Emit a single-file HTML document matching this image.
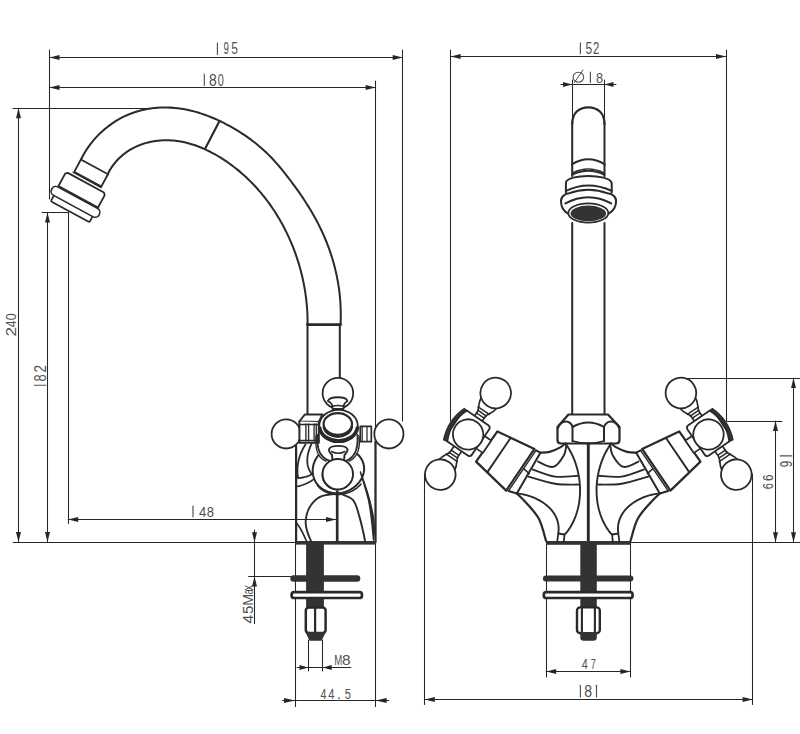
<!DOCTYPE html>
<html><head><meta charset="utf-8"><style>
html,body{margin:0;padding:0;background:#fff;width:800px;height:734px;overflow:hidden}
svg{display:block}
text{font-family:"Liberation Sans",sans-serif}
</style></head><body>
<svg width="800" height="734" viewBox="0 0 800 734" stroke-linecap="round" stroke-linejoin="round">
<rect width="800" height="734" fill="#fff"/>
<line x1="49.50" y1="50.00" x2="49.50" y2="199.00" stroke="#262626" stroke-width="1.05" />
<line x1="402.50" y1="50.00" x2="402.50" y2="421.00" stroke="#262626" stroke-width="1.05" />
<line x1="49.50" y1="57.50" x2="402.70" y2="57.50" stroke="#262626" stroke-width="1.05" />
<polygon points="49.50,57.50 59.50,60.00 59.50,55.00" fill="#262626"/>
<polygon points="402.70,57.50 392.70,55.00 392.70,60.00" fill="#262626"/>
<line x1="217.40" y1="43.00" x2="217.40" y2="54.40" stroke="#505050" stroke-width="1.15"/>
<text transform="translate(223.46,54.40) scale(0.594,1)" font-size="16.29" fill="#505050">9</text>
<text transform="translate(231.22,54.40) scale(0.737,1)" font-size="16.29" fill="#505050">5</text>
<line x1="375.50" y1="81.00" x2="375.50" y2="542.00" stroke="#262626" stroke-width="1.05" />
<line x1="49.50" y1="87.50" x2="375.60" y2="87.50" stroke="#262626" stroke-width="1.05" />
<polygon points="49.50,87.50 59.50,90.00 59.50,85.00" fill="#262626"/>
<polygon points="375.60,87.50 365.60,85.00 365.60,90.00" fill="#262626"/>
<line x1="204.30" y1="74.00" x2="204.30" y2="85.50" stroke="#505050" stroke-width="1.15"/>
<text transform="translate(209.04,85.50) scale(0.846,1)" font-size="16.43" fill="#505050">8</text>
<text transform="translate(217.82,85.50) scale(0.665,1)" font-size="16.43" fill="#505050">0</text>
<line x1="13.00" y1="108.50" x2="156.00" y2="108.50" stroke="#262626" stroke-width="1.05" />
<line x1="18.50" y1="108.30" x2="18.50" y2="542.00" stroke="#262626" stroke-width="1.05" />
<polygon points="18.50,108.30 16.00,118.30 21.00,118.30" fill="#262626"/>
<polygon points="18.50,542.00 21.00,532.00 16.00,532.00" fill="#262626"/>
<text transform="translate(15.90,336.46) rotate(-90) scale(1.156,1)" font-size="14.86" fill="#505050">2</text>
<text transform="translate(15.90,327.24) rotate(-90) scale(0.805,1)" font-size="14.86" fill="#505050">4</text>
<text transform="translate(15.90,320.14) rotate(-90) scale(0.847,1)" font-size="14.86" fill="#505050">0</text>
<line x1="42.00" y1="212.50" x2="68.00" y2="212.50" stroke="#262626" stroke-width="1.05" />
<line x1="47.50" y1="212.50" x2="47.50" y2="542.00" stroke="#262626" stroke-width="1.05" />
<polygon points="47.50,212.50 45.00,222.50 50.00,222.50" fill="#262626"/>
<polygon points="47.50,542.00 50.00,532.00 45.00,532.00" fill="#262626"/>
<line x1="34.30" y1="385.20" x2="45.90" y2="385.20" stroke="#505050" stroke-width="1.15"/>
<text transform="translate(45.90,381.41) rotate(-90) scale(0.775,1)" font-size="16.57" fill="#505050">8</text>
<text transform="translate(45.90,372.47) rotate(-90) scale(0.813,1)" font-size="16.57" fill="#505050">2</text>
<line x1="13.00" y1="542.50" x2="296.00" y2="542.50" stroke="#262626" stroke-width="1.05" />
<line x1="68.50" y1="212.50" x2="68.50" y2="523.50" stroke="#262626" stroke-width="1.05" />
<line x1="68.20" y1="519.50" x2="336.00" y2="519.50" stroke="#262626" stroke-width="1.05" />
<polygon points="68.20,519.50 78.20,522.00 78.20,517.00" fill="#262626"/>
<polygon points="336.00,519.50 326.00,517.00 326.00,522.00" fill="#262626"/>
<line x1="193.00" y1="506.20" x2="193.00" y2="516.80" stroke="#505050" stroke-width="1.15"/>
<text transform="translate(198.94,516.80) scale(0.868,1)" font-size="15.14" fill="#505050">4</text>
<text transform="translate(206.68,516.80) scale(0.862,1)" font-size="15.14" fill="#505050">8</text>
<line x1="254.50" y1="530.00" x2="254.50" y2="623.50" stroke="#262626" stroke-width="1.05" />
<polygon points="254.50,542.20 257.00,532.20 252.00,532.20" fill="#262626"/>
<line x1="248.60" y1="576.50" x2="292.00" y2="576.50" stroke="#262626" stroke-width="1.05" />
<polygon points="254.50,576.40 252.00,586.40 257.00,586.40" fill="#262626"/>
<text transform="translate(253.30,623.51) rotate(-90) scale(1.026,1)" font-size="15.29" fill="#505050">4</text>
<text transform="translate(253.30,614.10) rotate(-90) scale(0.978,1)" font-size="15.29" fill="#505050">5</text>
<text transform="translate(253.30,605.75) rotate(-90) scale(0.940,1)" font-size="15.29" fill="#505050">M</text>
<text transform="translate(253.30,594.35) rotate(-90) scale(0.566,1)" font-size="15.29" fill="#505050">a</text>
<text transform="translate(253.30,590.51) rotate(-90) scale(0.722,1)" font-size="15.29" fill="#505050">x</text>
<line x1="308.50" y1="640.00" x2="308.50" y2="671.00" stroke="#262626" stroke-width="1.05" />
<line x1="322.50" y1="640.00" x2="322.50" y2="671.00" stroke="#262626" stroke-width="1.05" />
<line x1="297.00" y1="667.50" x2="350.70" y2="667.50" stroke="#262626" stroke-width="1.05" />
<polygon points="308.50,667.50 299.50,665.00 299.50,670.00" fill="#262626"/>
<polygon points="322.70,667.50 331.70,670.00 331.70,665.00" fill="#262626"/>
<text transform="translate(334.23,665.00) scale(0.636,1)" font-size="15.14" fill="#505050">M</text>
<text transform="translate(342.09,665.00) scale(1.015,1)" font-size="15.14" fill="#505050">8</text>
<line x1="295.50" y1="542.00" x2="295.50" y2="706.50" stroke="#262626" stroke-width="1.05" />
<line x1="375.50" y1="542.00" x2="375.50" y2="706.50" stroke="#262626" stroke-width="1.05" />
<line x1="282.60" y1="700.50" x2="388.80" y2="700.50" stroke="#262626" stroke-width="1.05" />
<polygon points="295.00,700.50 284.00,698.00 284.00,703.00" fill="#262626"/>
<polygon points="375.60,700.50 386.60,703.00 386.60,698.00" fill="#262626"/>
<text transform="translate(320.39,699.00) scale(0.693,1)" font-size="15.29" fill="#505050">4</text>
<text transform="translate(328.18,699.00) scale(0.731,1)" font-size="15.29" fill="#505050">4</text>
<rect x="338.20" y="697.50" width="1.60" height="1.5" fill="#505050"/>
<text transform="translate(344.65,699.00) scale(0.730,1)" font-size="15.29" fill="#505050">5</text>
<line x1="450.50" y1="50.00" x2="450.50" y2="421.00" stroke="#262626" stroke-width="1.05" />
<line x1="726.50" y1="50.00" x2="726.50" y2="421.00" stroke="#262626" stroke-width="1.05" />
<line x1="450.60" y1="56.50" x2="726.00" y2="56.50" stroke="#262626" stroke-width="1.05" />
<polygon points="450.60,56.50 460.60,59.00 460.60,54.00" fill="#262626"/>
<polygon points="726.00,56.50 716.00,54.00 716.00,59.00" fill="#262626"/>
<line x1="580.40" y1="42.80" x2="580.40" y2="53.70" stroke="#505050" stroke-width="1.15"/>
<text transform="translate(585.52,53.70) scale(0.771,1)" font-size="15.57" fill="#505050">5</text>
<text transform="translate(592.93,53.70) scale(0.726,1)" font-size="15.57" fill="#505050">2</text>
<line x1="572.50" y1="80.00" x2="572.50" y2="123.00" stroke="#262626" stroke-width="1.05" />
<line x1="604.50" y1="80.00" x2="604.50" y2="123.00" stroke="#262626" stroke-width="1.05" />
<line x1="561.00" y1="84.50" x2="616.00" y2="84.50" stroke="#262626" stroke-width="1.05" />
<polygon points="572.00,84.50 563.00,82.00 563.00,87.00" fill="#262626"/>
<polygon points="604.50,84.50 613.50,87.00 613.50,82.00" fill="#262626"/>
<line x1="590.40" y1="72.10" x2="590.40" y2="82.60" stroke="#505050" stroke-width="1.15"/>
<text transform="translate(596.09,82.60) scale(0.856,1)" font-size="15.00" fill="#505050">8</text>
<ellipse cx="578.4" cy="77.2" rx="5.3" ry="5" fill="none" stroke="#505050" stroke-width="1.1"/>
<line x1="574.70" y1="82.20" x2="583.00" y2="69.90" stroke="#505050" stroke-width="1.0" />
<line x1="682.00" y1="378.50" x2="800.00" y2="378.50" stroke="#262626" stroke-width="1.05" />
<line x1="793.50" y1="378.00" x2="793.50" y2="542.00" stroke="#262626" stroke-width="1.05" />
<polygon points="793.50,378.00 791.00,388.00 796.00,388.00" fill="#262626"/>
<polygon points="793.50,542.20 796.00,532.20 791.00,532.20" fill="#262626"/>
<text transform="translate(791.80,467.32) rotate(-90) scale(0.701,1)" font-size="16.57" fill="#505050">9</text>
<line x1="780.20" y1="455.90" x2="791.80" y2="455.90" stroke="#505050" stroke-width="1.15"/>
<line x1="727.00" y1="421.50" x2="782.00" y2="421.50" stroke="#262626" stroke-width="1.05" />
<line x1="775.50" y1="421.00" x2="775.50" y2="542.00" stroke="#262626" stroke-width="1.05" />
<polygon points="775.50,421.00 773.00,431.00 778.00,431.00" fill="#262626"/>
<polygon points="775.50,542.20 778.00,532.20 773.00,532.20" fill="#262626"/>
<text transform="translate(773.00,489.15) rotate(-90) scale(0.711,1)" font-size="15.43" fill="#505050">6</text>
<text transform="translate(773.00,480.98) rotate(-90) scale(0.753,1)" font-size="15.43" fill="#505050">6</text>
<line x1="630.00" y1="542.50" x2="800.00" y2="542.50" stroke="#262626" stroke-width="1.05" />
<line x1="546.50" y1="542.00" x2="546.50" y2="677.00" stroke="#262626" stroke-width="1.05" />
<line x1="630.50" y1="542.00" x2="630.50" y2="677.00" stroke="#262626" stroke-width="1.05" />
<line x1="546.20" y1="671.50" x2="630.40" y2="671.50" stroke="#262626" stroke-width="1.05" />
<polygon points="546.20,671.50 556.20,674.00 556.20,669.00" fill="#262626"/>
<polygon points="630.40,671.50 620.40,669.00 620.40,674.00" fill="#262626"/>
<text transform="translate(581.68,668.70) scale(0.732,1)" font-size="15.00" fill="#505050">4</text>
<text transform="translate(590.74,668.70) scale(0.609,1)" font-size="15.00" fill="#505050">7</text>
<line x1="424.50" y1="474.00" x2="424.50" y2="704.50" stroke="#262626" stroke-width="1.05" />
<line x1="752.50" y1="474.00" x2="752.50" y2="704.50" stroke="#262626" stroke-width="1.05" />
<line x1="424.80" y1="699.50" x2="752.60" y2="699.50" stroke="#262626" stroke-width="1.05" />
<polygon points="424.80,699.50 434.80,702.00 434.80,697.00" fill="#262626"/>
<polygon points="752.60,699.50 742.60,697.00 742.60,702.00" fill="#262626"/>
<line x1="580.40" y1="685.20" x2="580.40" y2="696.90" stroke="#505050" stroke-width="1.15"/>
<text transform="translate(584.34,696.90) scale(0.844,1)" font-size="16.71" fill="#505050">8</text>
<line x1="596.50" y1="685.20" x2="596.50" y2="696.90" stroke="#505050" stroke-width="1.15"/>
<path d="M81.00,159.50 L82.55,156.45 L84.22,153.43 L86.00,150.48 L87.91,147.60 L89.92,144.79 L92.04,142.06 L94.26,139.40 L96.58,136.83 L99.00,134.34 L101.50,131.94 L104.09,129.64 L106.77,127.43 L109.52,125.33 L112.34,123.32 L115.24,121.43 L118.20,119.64 L121.23,117.97 L124.31,116.42 L127.45,114.99 L130.64,113.69 L133.87,112.51 L137.14,111.46 L140.45,110.53 L143.80,109.73 L147.17,109.05 L150.56,108.49 L153.97,108.05 L157.39,107.74 L160.82,107.54 L164.26,107.45 L167.69,107.49 L171.12,107.63 L174.53,107.89 L177.94,108.26 L181.33,108.73 L184.72,109.31 L188.08,109.98 L191.43,110.75 L194.76,111.62 L198.08,112.57 L201.37,113.60 L204.64,114.72 L207.89,115.92 L211.12,117.19 L214.32,118.53 L217.49,119.94 L220.64,121.42 L223.75,122.96 L226.84,124.56 L229.89,126.21 L232.91,127.91 L235.89,129.67 L238.84,131.47 L241.75,133.31 L244.62,135.21 L247.45,137.15 L250.24,139.14 L252.98,141.19 L255.68,143.29 L258.33,145.44 L260.92,147.65 L263.47,149.92 L265.97,152.24 L268.41,154.63 L270.81,157.06 L273.16,159.54 L275.46,162.07 L277.73,164.65 L279.96,167.26 L282.16,169.90 L284.32,172.58 L286.46,175.28 L288.57,178.01 L290.66,180.76 L292.73,183.53 L294.78,186.31 L296.80,189.12 L298.79,191.94 L300.76,194.78 L302.70,197.65 L304.60,200.53 L306.47,203.44 L308.31,206.36 L310.11,209.31 L311.87,212.28 L313.59,215.26 L315.27,218.28 L316.90,221.31 L318.49,224.37 L320.03,227.45 L321.52,230.55 L322.96,233.68 L324.35,236.83 L325.69,240.00 L326.97,243.19 L328.20,246.41 L329.38,249.64 L330.50,252.89 L331.57,256.16 L332.58,259.45 L333.53,262.76 L334.43,266.08 L335.28,269.41 L336.06,272.76 L336.79,276.12 L337.45,279.50 L338.06,282.88 L338.61,286.28 L339.10,289.69 L339.53,293.10 L339.89,296.53 L340.19,299.96 L340.44,303.40 L340.61,306.84 L340.73,310.29 L340.78,313.75 L340.76,317.20 L340.68,320.66 L340.60,324.10" stroke="#2a2a2a" stroke-width="2.0160000000000005" fill="none" />
<path d="M107.90,174.30 L108.82,171.91 L110.30,169.36 L111.88,166.92 L113.55,164.59 L115.31,162.38 L117.16,160.28 L119.10,158.29 L121.11,156.40 L123.20,154.63 L125.35,152.96 L127.58,151.40 L129.86,149.95 L132.20,148.60 L134.60,147.35 L137.04,146.21 L139.53,145.17 L142.06,144.23 L144.63,143.39 L147.23,142.65 L149.85,142.02 L152.50,141.48 L155.17,141.03 L157.85,140.69 L160.55,140.44 L163.25,140.29 L165.95,140.23 L168.65,140.26 L171.34,140.39 L174.03,140.60 L176.71,140.91 L179.37,141.30 L182.03,141.78 L184.67,142.33 L187.29,142.97 L189.91,143.68 L192.51,144.46 L195.09,145.31 L197.65,146.23 L200.20,147.22 L202.72,148.27 L205.23,149.38 L207.72,150.55 L210.18,151.77 L212.62,153.05 L215.04,154.37 L217.43,155.75 L219.79,157.16 L222.13,158.62 L224.44,160.13 L226.72,161.66 L228.98,163.24 L231.20,164.85 L233.39,166.50 L235.56,168.18 L237.69,169.89 L239.80,171.64 L241.88,173.43 L243.92,175.24 L245.94,177.09 L247.92,178.97 L249.88,180.87 L251.81,182.81 L253.70,184.78 L255.57,186.78 L257.40,188.80 L259.20,190.86 L260.98,192.94 L262.72,195.04 L264.43,197.17 L266.11,199.33 L267.75,201.52 L269.37,203.72 L270.95,205.95 L272.51,208.21 L274.03,210.48 L275.51,212.78 L276.97,215.10 L278.40,217.44 L279.79,219.80 L281.15,222.18 L282.47,224.58 L283.77,226.99 L285.03,229.43 L286.26,231.88 L287.45,234.35 L288.62,236.83 L289.74,239.33 L290.84,241.85 L291.90,244.37 L292.93,246.92 L293.92,249.47 L294.89,252.04 L295.81,254.62 L296.70,257.21 L297.56,259.81 L298.39,262.42 L299.18,265.04 L299.93,267.67 L300.65,270.31 L301.34,272.96 L301.99,275.61 L302.60,278.27 L303.18,280.93 L303.73,283.61 L304.24,286.28 L304.71,288.96 L305.15,291.65 L305.55,294.33 L305.92,297.02 L306.25,299.71 L306.54,302.40 L306.80,305.10 L307.02,307.79 L307.21,310.48 L307.36,313.17 L307.47,315.86 L307.54,318.55 L307.58,321.24 L307.50,324.10" stroke="#2a2a2a" stroke-width="2.0160000000000005" fill="none" />
<line x1="205.25" y1="148.60" x2="219.50" y2="121.00" stroke="#2a2a2a" stroke-width="2.128" />
<line x1="307.50" y1="324.60" x2="340.60" y2="324.60" stroke="#2a2a2a" stroke-width="2.688" />
<g transform="translate(94.45,166.9) rotate(28.5)" stroke="#2a2a2a" fill="#fff" stroke-width="1.6">
<path d="M-15.4,0 L15.4,0 L15.4,14 L-15.4,14 Z" stroke="#2a2a2a" stroke-width="1.7920000000000003" fill="#fff" />
<path d="M-20.5,17.9 L20.5,17.9 L22.5,19.9 L22.5,34 L-22.5,34 L-22.5,19.9 Z" stroke="#2a2a2a" stroke-width="1.7920000000000003" fill="#fff" />
<line x1="-16.30" y1="15.00" x2="15.80" y2="15.00" stroke="#2a2a2a" stroke-width="1.2320000000000002" />
<path d="M-22,44 L22,44 L22,50 Q22,51 20,51 L-20,51 Q-22,51 -22,50 Z" stroke="#2a2a2a" stroke-width="1.7920000000000003" fill="#fff" />
<rect x="-27" y="35" width="54" height="9.5" rx="4.7" fill="#fff"/>
</g>
<line x1="307.50" y1="324.60" x2="307.50" y2="414.50" stroke="#2a2a2a" stroke-width="2.0160000000000005" />
<line x1="339.80" y1="324.60" x2="339.80" y2="378.50" stroke="#2a2a2a" stroke-width="2.0160000000000005" />
<line x1="296.10" y1="446.00" x2="296.10" y2="542.00" stroke="#2a2a2a" stroke-width="2.24" />
<line x1="375.50" y1="441.50" x2="375.50" y2="542.00" stroke="#2a2a2a" stroke-width="2.24" />
<rect x="295.5" y="541" width="80.6" height="3.6" fill="#333"/>
<rect x="306.1" y="544" width="17.8" height="64" fill="#333"/>
<rect x="290.3" y="575.2" width="70" height="6.6" rx="3.2" fill="#333"/>
<rect x="291.6" y="592.2" width="70.4" height="5.8" rx="2.6" fill="#fff" stroke="#2a2a2a" stroke-width="2.7"/>
<rect x="305.8" y="607.4" width="19.8" height="25.6" rx="3" fill="#fff" stroke="#2a2a2a" stroke-width="2.5"/>
<line x1="315.10" y1="607.50" x2="315.10" y2="633.00" stroke="#2a2a2a" stroke-width="2.24" />
<path d="M305.4,632 L326,632 L321.5,640.7 L309.5,640.7 Z" fill="#333"/>
<circle cx="337.9" cy="393.2" r="15.3" fill="#fff" stroke="#2a2a2a" stroke-width="1.8"/>
<circle cx="286.2" cy="433.9" r="14.6" fill="#fff" stroke="#2a2a2a" stroke-width="1.8"/>
<circle cx="388.9" cy="433.9" r="14.6" fill="#fff" stroke="#2a2a2a" stroke-width="1.8"/>
<circle cx="337.5" cy="474.5" r="15.1" fill="#fff" stroke="#2a2a2a" stroke-width="1.8"/>
<path d="M327.8,401 C330,396 346,396 347.5,401 C344,403 343,405 343.5,409 L332.5,409 C333,405 332,403 327.8,401 Z" stroke="#2a2a2a" stroke-width="1.7920000000000003" fill="#fff" />
<path d="M331.5,406.5 Q338,404.5 344,406.5" stroke="#2a2a2a" stroke-width="1.4560000000000002" fill="none" />
<ellipse cx="338.5" cy="426" rx="19.3" ry="16.2" fill="#fff" stroke="#2a2a2a" stroke-width="1.8"/>
<path d="M319.6,428 C321,436 329,440.5 338.5,441.2 C348,440.5 356,436 357.4,428" stroke="#2a2a2a" stroke-width="3.8080000000000003" fill="none" />
<ellipse cx="337.8" cy="424" rx="14.2" ry="10.8" fill="none" stroke="#2a2a2a" stroke-width="2.2"/>
<path d="M323.8,427 C325,433 331,436.5 337.8,436.8 C344.6,436.5 350.6,433 351.8,427" stroke="#2a2a2a" stroke-width="2.4640000000000004" fill="none" />
<path d="M299.4,421.5 L304.8,414.5 L322.5,414.5 L318.8,422 Z" stroke="#2a2a2a" stroke-width="2.0160000000000005" fill="#fff" />
<path d="M299.4,421.5 L299.4,442.8 L318.8,442.8 L318.8,422" stroke="#2a2a2a" stroke-width="2.0160000000000005" fill="#fff" />
<line x1="305.90" y1="424.00" x2="305.90" y2="441.00" stroke="#2a2a2a" stroke-width="1.344" />
<line x1="308.60" y1="424.00" x2="308.60" y2="441.00" stroke="#2a2a2a" stroke-width="1.344" />
<line x1="314.10" y1="424.00" x2="314.10" y2="441.00" stroke="#2a2a2a" stroke-width="1.344" />
<line x1="316.30" y1="424.00" x2="316.30" y2="441.00" stroke="#2a2a2a" stroke-width="1.344" />
<line x1="299.40" y1="424.50" x2="318.80" y2="424.50" stroke="#2a2a2a" stroke-width="1.344" />
<line x1="299.40" y1="440.50" x2="318.80" y2="440.50" stroke="#2a2a2a" stroke-width="1.344" />
<rect x="360.3" y="426.4" width="11" height="15.3" fill="#fff" stroke="#2a2a2a" stroke-width="1.7"/>
<line x1="362.20" y1="427.00" x2="362.20" y2="441.00" stroke="#2a2a2a" stroke-width="1.2320000000000002" />
<line x1="367.00" y1="427.00" x2="367.00" y2="441.00" stroke="#2a2a2a" stroke-width="1.2320000000000002" />
<path d="M317.50,435.00 L317.49,436.01 L317.44,437.03 L317.41,438.07 L317.39,439.11 L317.40,440.16 L317.43,441.22 L317.48,442.28 L317.56,443.33 L317.67,444.38 L317.81,445.43 L317.99,446.46 L318.19,447.49 L318.44,448.50 L318.72,449.49 L319.05,450.46 L319.42,451.41 L319.83,452.33 L320.29,453.23 L320.80,454.10 L321.36,454.93 L321.97,455.73 L322.64,456.48 L323.37,457.20 L324.15,457.88 L325.00,458.50 L325.91,459.08 L326.89,459.61 L327.93,460.08 L329.00,460.50" stroke="#2a2a2a" stroke-width="1.9040000000000001" fill="none" />
<path d="M357.50,435.00 L357.51,436.00 L357.56,437.01 L357.59,438.04 L357.61,439.07 L357.60,440.10 L357.58,441.15 L357.52,442.19 L357.45,443.23 L357.34,444.26 L357.21,445.29 L357.04,446.31 L356.84,447.32 L356.60,448.31 L356.33,449.29 L356.02,450.26 L355.66,451.20 L355.27,452.12 L354.83,453.01 L354.34,453.87 L353.80,454.71 L353.21,455.51 L352.57,456.28 L351.88,457.01 L351.12,457.71 L350.31,458.36 L349.44,458.96 L348.51,459.52 L347.52,460.04 L346.50,460.50" stroke="#2a2a2a" stroke-width="1.9040000000000001" fill="none" />
<path d="M316.00,436.00 L315.97,436.96 L315.92,437.95 L315.88,438.94 L315.86,439.95 L315.85,440.96 L315.86,441.98 L315.89,443.00 L315.94,444.02 L316.02,445.04 L316.12,446.06 L316.25,447.06 L316.41,448.06 L316.61,449.05 L316.84,450.02 L317.11,450.97 L317.42,451.91 L317.77,452.82 L318.16,453.71 L318.60,454.57 L319.09,455.40 L319.63,456.21 L320.23,456.97 L320.88,457.70 L321.59,458.40 L322.36,459.05 L323.19,459.65 L324.08,460.21 L325.04,460.72 L326.00,461.20" stroke="#2a2a2a" stroke-width="1.344" fill="none" />
<path d="M359.00,436.00 L359.11,436.97 L359.22,437.96 L359.30,438.96 L359.36,439.96 L359.39,440.98 L359.40,442.00 L359.38,443.02 L359.33,444.04 L359.25,445.06 L359.13,446.07 L358.99,447.08 L358.80,448.07 L358.58,449.06 L358.32,450.02 L358.03,450.98 L357.69,451.91 L357.31,452.82 L356.88,453.70 L356.42,454.56 L355.90,455.40 L355.34,456.20 L354.72,456.96 L354.06,457.69 L353.35,458.38 L352.58,459.04 L351.76,459.64 L350.88,460.21 L349.94,460.72 L349.00,461.20" stroke="#2a2a2a" stroke-width="1.344" fill="none" />
<path d="M318.50,455.00 L317.44,456.52 L316.30,458.20 L315.33,459.94 L314.51,461.72 L313.85,463.55 L313.34,465.39 L312.98,467.26 L312.78,469.13 L312.72,470.99 L312.81,472.84 L313.05,474.67 L313.43,476.46 L313.95,478.20 L314.62,479.89 L315.42,481.51 L316.37,483.06 L317.45,484.51 L318.67,485.88 L320.01,487.14 L321.46,488.29 L323.02,489.34 L324.66,490.27 L326.38,491.08 L328.16,491.77 L329.99,492.34 L331.87,492.77 L333.77,493.08 L335.69,493.24 L337.61,493.26 L339.52,493.14 L341.42,492.88 L343.30,492.48 L345.14,491.95 L346.94,491.30 L348.70,490.53 L350.40,489.64 L352.04,488.66 L353.61,487.57 L355.09,486.40 L356.50,485.13 L357.81,483.79 L359.02,482.37 L360.12,480.89 L361.10,479.34 L361.96,477.74 L362.68,476.08 L363.27,474.39 L363.71,472.66 L363.99,470.89 L364.11,469.10 L364.06,467.30 L363.83,465.48 L363.42,463.67 L362.83,461.88 L362.04,460.12 L361.05,458.40 L359.86,456.73 L358.47,455.14 L357.00,454.00" stroke="#2a2a2a" stroke-width="2.0160000000000005" fill="none" />
<path d="M317.50,485.50 L318.35,486.50 L319.25,487.43 L320.19,488.31 L321.17,489.12 L322.19,489.88 L323.23,490.57 L324.31,491.21 L325.41,491.78 L326.54,492.31 L327.70,492.77 L328.87,493.18 L330.07,493.53 L331.28,493.82 L332.50,494.06 L333.74,494.25 L334.99,494.38 L336.24,494.46 L337.50,494.49 L338.76,494.46 L340.02,494.39 L341.28,494.26 L342.54,494.09 L343.79,493.86 L345.03,493.59 L346.26,493.26 L347.47,492.89 L348.67,492.48 L349.85,492.01 L351.01,491.50 L352.15,490.95 L353.26,490.34 L354.35,489.70 L355.41,489.01 L356.43,488.28 L357.42,487.51 L358.37,486.69 L359.29,485.83 L360.16,484.94 L361.00,484.00" stroke="#2a2a2a" stroke-width="1.568" fill="none" />
<path d="M329,450 C329,444.5 347.5,444.5 347.5,450 C347.5,453 345,454 344.5,455 L344,461 L332.5,461 L332,455 C331.5,454 329,453 329,450 Z" stroke="#2a2a2a" stroke-width="1.9040000000000001" fill="#fff" />
<path d="M331.5,451.5 Q338.2,455 345,451.5" stroke="#2a2a2a" stroke-width="1.4560000000000002" fill="none" />
<circle cx="337.8" cy="474.2" r="15.2" fill="#fff" stroke="#2a2a2a" stroke-width="1.9"/>
<path d="M305.50,444.50 L304.85,445.52 L304.22,446.55 L303.62,447.59 L303.04,448.66 L302.48,449.73 L301.96,450.83 L301.46,451.93 L300.98,453.05 L300.53,454.17 L300.12,455.31 L299.72,456.46 L299.36,457.62 L299.03,458.78 L298.73,459.96 L298.46,461.14 L298.22,462.33 L298.01,463.52 L297.84,464.72 L297.69,465.92 L297.59,467.12 L297.51,468.33 L297.47,469.54 L297.46,470.75 L297.49,471.96 L297.56,473.17 L297.66,474.38 L297.81,475.59 L297.98,476.80 L298.20,478.00" stroke="#2a2a2a" stroke-width="1.7920000000000003" fill="none" />
<path d="M298.20,478.00 L298.97,477.96 L299.74,477.91 L300.50,477.83 L301.25,477.74 L302.00,477.63 L302.75,477.50 L303.49,477.36 L304.22,477.19 L304.96,477.01 L305.68,476.81 L306.40,476.59 L307.12,476.36 L307.83,476.10 L308.54,475.83 L309.24,475.54 L309.94,475.23 L310.63,474.91 L311.32,474.56 L312.00,474.20" stroke="#2a2a2a" stroke-width="1.7920000000000003" fill="none" />
<path d="M311.50,444.00 L311.05,444.96 L310.61,445.95 L310.19,446.95 L309.79,447.97 L309.41,449.00 L309.06,450.05 L308.73,451.11 L308.43,452.19 L308.16,453.27 L307.93,454.35 L307.72,455.45 L307.55,456.54 L307.42,457.64 L307.33,458.74 L307.28,459.84 L307.27,460.94 L307.31,462.03 L307.39,463.12 L307.53,464.19 L307.71,465.26 L307.95,466.32 L308.24,467.37 L308.60,468.40 L309.00,469.42 L309.47,470.41 L310.01,471.39 L310.60,472.35 L311.27,473.29 L312.00,474.20" stroke="#2a2a2a" stroke-width="1.7920000000000003" fill="none" />
<path d="M297.00,486.50 L297.97,486.30 L298.94,486.08 L299.90,485.83 L300.84,485.56 L301.78,485.28 L302.71,484.97 L303.63,484.64 L304.55,484.29 L305.45,483.91 L306.34,483.52 L307.23,483.10 L308.11,482.66 L308.98,482.21 L309.84,481.72 L310.69,481.22 L311.53,480.70 L312.36,480.15 L313.18,479.59 L314.00,479.00" stroke="#2a2a2a" stroke-width="1.6800000000000002" fill="none" />
<path d="M296.50,523.00 L297.18,523.86 L297.83,524.73 L298.46,525.62 L299.06,526.52 L299.65,527.43 L300.21,528.36 L300.76,529.29 L301.30,530.24 L301.82,531.19 L302.32,532.16 L302.81,533.13 L303.30,534.10 L303.77,535.08 L304.24,536.07 L304.70,537.05 L305.15,538.04 L305.60,539.03 L306.05,540.01 L306.50,541.00" stroke="#2a2a2a" stroke-width="1.6800000000000002" fill="none" />
<path d="M360.4,472 C365,484 371,500 373.8,520 C374.8,530 374,536 373.5,540 C372.5,530 371.5,515 368.5,500 C366,490 363,481 360.4,472 Z" fill="#333" stroke="#2a2a2a" stroke-width="1.4"/>
<line x1="337.20" y1="491.50" x2="337.20" y2="541.50" stroke="#2a2a2a" stroke-width="2.688" />
<path d="M334.90,493.90 C332.42,494.40 324.23,494.65 320.00,496.90 C315.77,499.15 311.88,503.40 309.50,507.40 C307.12,511.40 306.08,516.92 305.70,520.90 C305.32,524.88 306.32,527.95 307.20,531.30 C308.08,534.65 310.37,539.38 311.00,541.00" stroke="#2a2a2a" stroke-width="1.9040000000000001" fill="none" />
<path d="M339.40,493.20 C341.65,494.32 349.65,496.28 352.90,499.90 C356.15,503.52 357.15,509.42 358.90,514.90 C360.65,520.38 362.40,528.53 363.40,532.80 C364.40,537.07 364.65,539.22 364.90,540.50" stroke="#2a2a2a" stroke-width="1.9040000000000001" fill="none" />
<line x1="572.20" y1="123.00" x2="572.20" y2="165.00" stroke="#2a2a2a" stroke-width="2.0160000000000005" />
<line x1="604.50" y1="123.00" x2="604.50" y2="165.00" stroke="#2a2a2a" stroke-width="2.0160000000000005" />
<path d="M572.2,124 C572.2,113 579,107.3 588.3,107.3 C597.6,107.3 604.5,113 604.5,124" stroke="#2a2a2a" stroke-width="2.24" fill="none" />
<line x1="572.20" y1="165.00" x2="572.20" y2="176.00" stroke="#2a2a2a" stroke-width="2.0160000000000005" />
<line x1="604.50" y1="165.00" x2="604.50" y2="176.00" stroke="#2a2a2a" stroke-width="2.0160000000000005" />
<path d="M572.2,164.2 Q588.3,154.5 604.5,164.2" stroke="#2a2a2a" stroke-width="2.0160000000000005" fill="none" />
<path d="M572.4,174.5 Q588.3,166.8 604.1,174.5" stroke="#2a2a2a" stroke-width="2.0160000000000005" fill="none" />
<path d="M573,172.6 Q588.3,165.2 603.5,172.6" stroke="#2a2a2a" stroke-width="1.2320000000000002" fill="none" />
<path d="M565.9,192.5 L565.9,183 C566,178 578,176 588.3,176 C598.6,176 610.6,178 611.7,183 L611.7,192.5" stroke="#2a2a2a" stroke-width="2.0160000000000005" fill="#fff" />
<path d="M565.9,190.9 Q588.3,180 611.7,190.9" stroke="#2a2a2a" stroke-width="2.0160000000000005" fill="none" />
<path d="M561,201 C561,196 566,193.6 568,193.6 Q588.3,186 608.6,193.6 C611,193.6 616.1,196 616.1,201 C616.1,207 613,211 609,213.5 L567.6,213.5 C563.6,211 561,207 561,201 Z" stroke="#2a2a2a" stroke-width="2.0160000000000005" fill="#fff" />
<path d="M565.4,203.4 Q588.3,191 611.2,203.4" stroke="#2a2a2a" stroke-width="2.0160000000000005" fill="none" />
<ellipse cx="588.3" cy="213" rx="20" ry="9.6" fill="#fff" stroke="#2a2a2a" stroke-width="1.8"/>
<ellipse cx="588.3" cy="213.4" rx="17.8" ry="7.8" fill="#333"/>
<line x1="572.20" y1="223.00" x2="572.20" y2="414.00" stroke="#2a2a2a" stroke-width="2.0160000000000005" />
<line x1="604.50" y1="223.00" x2="604.50" y2="414.00" stroke="#2a2a2a" stroke-width="2.0160000000000005" />
<path d="M568.5,414.5 L608,414.5 L619.5,427 L619.5,440 Q619.5,443.5 616,443.5 L561,443.5 Q557.5,443.5 557.5,440 L557.5,427 Z" stroke="#2a2a2a" stroke-width="2.24" fill="#fff" />
<path d="M558,428 C559,423 564,421.5 566,421.5 C569,421.5 572,424 572.5,427 L572.5,441" stroke="#2a2a2a" stroke-width="2.0160000000000005" fill="none" />
<path d="M619,428 C618,423 613,421.5 611,421.5 C608,421.5 605,424 604,427 L604,441" stroke="#2a2a2a" stroke-width="2.0160000000000005" fill="none" />
<path d="M572.5,427 Q588.3,418 604,427" stroke="#2a2a2a" stroke-width="2.0160000000000005" fill="none" />
<path d="M572.5,441 Q588.3,446 604,441" stroke="#2a2a2a" stroke-width="1.7920000000000003" fill="none" />
<line x1="588.30" y1="443.50" x2="588.30" y2="542.00" stroke="#2a2a2a" stroke-width="2.9120000000000004" />
<rect x="546" y="541" width="84.6" height="3.8" fill="#333"/>
<rect x="580.3" y="544" width="16.5" height="64" fill="#333"/>
<rect x="542.9" y="575.6" width="90.5" height="6" rx="3" fill="#333"/>
<rect x="543.8" y="592.2" width="88.8" height="5.8" rx="2.6" fill="#fff" stroke="#2a2a2a" stroke-width="2.7"/>
<rect x="577" y="607.4" width="22.8" height="25.8" rx="3.2" fill="#fff" stroke="#2a2a2a" stroke-width="2.4"/>
<line x1="581.90" y1="608.00" x2="581.90" y2="632.50" stroke="#2a2a2a" stroke-width="2.128" />
<line x1="594.90" y1="608.00" x2="594.90" y2="632.50" stroke="#2a2a2a" stroke-width="2.128" />
<path d="M580.3,632 L596.8,632 L596.8,637.5 Q596.8,640.8 593.5,640.8 L583.6,640.8 Q580.3,640.8 580.3,637.5 Z" fill="#333"/>
<path d="M516.90,493.50 C518.52,495.12 522.92,498.93 526.60,503.20 C530.28,507.47 535.75,512.80 539.00,519.10 C542.25,525.40 544.92,537.35 546.10,541.00" stroke="#2a2a2a" stroke-width="2.24" fill="none" />
<path d="M539.90,452.70 C541.52,452.57 546.20,452.78 549.60,451.90 C553.00,451.02 557.63,448.83 560.30,447.40 C562.97,445.97 564.72,443.98 565.60,443.30" stroke="#2a2a2a" stroke-width="2.128" fill="none" />
<path d="M538.10,461.60 C540.62,462.48 548.92,467.93 553.20,466.90 C557.48,465.87 561.58,459.23 563.80,455.40 C566.02,451.57 566.05,445.82 566.50,443.90" stroke="#2a2a2a" stroke-width="1.9040000000000001" fill="none" />
<path d="M532.80,469.60 C536.50,470.77 547.47,475.57 555.00,476.60 C562.53,477.63 574.17,475.93 578.00,475.80" stroke="#2a2a2a" stroke-width="1.9040000000000001" fill="none" />
<path d="M528.40,476.60 C532.83,477.78 546.65,482.37 555.00,483.70 C563.35,485.03 574.58,484.45 578.50,484.60" stroke="#2a2a2a" stroke-width="1.9040000000000001" fill="none" />
<path d="M516.90,493.50 L518.45,493.66 L520.04,493.85 L521.63,494.10 L523.23,494.40 L524.84,494.74 L526.45,495.14 L528.06,495.59 L529.66,496.09 L531.25,496.64 L532.83,497.24 L534.40,497.88 L535.94,498.57 L537.47,499.32 L538.97,500.10 L540.44,500.94 L541.88,501.82 L543.28,502.74 L544.64,503.71 L545.96,504.72 L547.24,505.78 L548.46,506.88 L549.64,508.03 L550.75,509.22 L551.81,510.44 L552.80,511.72 L553.73,513.03 L554.59,514.38 L555.38,515.77 L556.09,517.20 L556.72,518.67 L557.26,520.18 L557.72,521.73 L558.09,523.32 L558.37,524.94 L558.55,526.60 L558.63,528.29 L558.61,530.03 L558.48,531.79 L558.30,533.50" stroke="#2a2a2a" stroke-width="1.9040000000000001" fill="none" />
<path d="M565.60,443.90 L566.87,445.50 L567.92,447.12 L568.92,448.78 L569.89,450.47 L570.82,452.18 L571.70,453.93 L572.54,455.71 L573.34,457.51 L574.10,459.34 L574.81,461.20 L575.48,463.07 L576.11,464.97 L576.69,466.88 L577.22,468.81 L577.71,470.76 L578.16,472.72 L578.56,474.69 L578.91,476.67 L579.22,478.67 L579.48,480.67 L579.69,482.67 L579.85,484.68 L579.97,486.69 L580.04,488.71 L580.05,490.72 L580.02,492.73 L579.94,494.74 L579.81,496.74 L579.63,498.73 L579.39,500.72 L579.11,502.69 L578.77,504.66 L578.39,506.61 L577.95,508.54 L577.45,510.46 L576.90,512.36 L576.30,514.24 L575.65,516.10 L574.94,517.93 L574.18,519.74 L573.36,521.53 L572.48,523.28 L571.55,525.01 L570.57,526.70 L569.52,528.37 L568.42,529.99 L567.26,531.59 L566.05,533.14 L564.50,534.50" stroke="#2a2a2a" stroke-width="1.9040000000000001" fill="none" />
<path d="M558.3,533.5 L564.5,534.5 M558.3,533.5 L557.2,541.5 M564.5,534.5 L563.8,541.5" stroke="#2a2a2a" stroke-width="1.7920000000000003" fill="none" />
<g transform="translate(467.7,434.2) rotate(34.2)">
<path d="M23,-19 L63.5,-25.3 L63.5,25 L22.4,18 Z" stroke="#2a2a2a" stroke-width="2.24" fill="#fff" />
<line x1="37.60" y1="-21.00" x2="37.60" y2="20.00" stroke="#2a2a2a" stroke-width="1.9040000000000001" />
<line x1="65.60" y1="-25.00" x2="65.60" y2="24.00" stroke="#2a2a2a" stroke-width="1.4560000000000002" />
<path d="M65.6,-25 L70.5,-25.6 L74,21.5 L65.6,24" stroke="#2a2a2a" stroke-width="2.0160000000000005" fill="none" />
<line x1="66.00" y1="-3.00" x2="73.00" y2="-2.00" stroke="#2a2a2a" stroke-width="1.568" />
<rect x="14" y="-8" width="9" height="15" fill="#fff" stroke="#2a2a2a" stroke-width="1.7"/>
<path d="M-4.6,-18.5 L-4.6,-24 C-4.6,-28 -8.8,-30 -9.5,-38.5 L9.5,-38.5 C8.8,-30 4.6,-28 4.6,-24 L4.6,-18.5 Z" fill="#fff" stroke="#2a2a2a" stroke-width="1.7"/>
<line x1="-4.60" y1="-22.50" x2="4.60" y2="-22.50" stroke="#2a2a2a" stroke-width="1.4560000000000002" />
<line x1="-5.20" y1="-25.50" x2="5.20" y2="-25.50" stroke="#2a2a2a" stroke-width="1.4560000000000002" />
<line x1="-6.80" y1="-28.50" x2="6.80" y2="-28.50" stroke="#2a2a2a" stroke-width="1.4560000000000002" />
<path d="M-4.6,17.0 L-4.6,24 C-4.6,28 -8.8,30 -9.5,37.5 L9.5,37.5 C8.8,30 4.6,28 4.6,24 L4.6,17.0 Z" fill="#fff" stroke="#2a2a2a" stroke-width="1.7"/>
<line x1="-4.60" y1="22.50" x2="4.60" y2="22.50" stroke="#2a2a2a" stroke-width="1.4560000000000002" />
<line x1="-5.20" y1="25.50" x2="5.20" y2="25.50" stroke="#2a2a2a" stroke-width="1.4560000000000002" />
<line x1="-6.80" y1="28.50" x2="6.80" y2="28.50" stroke="#2a2a2a" stroke-width="1.4560000000000002" />
<rect x="-17" y="-19" width="32" height="36.5" rx="3" fill="#fff" stroke="#2a2a2a" stroke-width="1.8"/>
<path d="M-17.3,-19.4 Q-24.55,-0.6 -16.8,18.2 L-12.9,16.7 Q-21.35,-1 -14,-18.3 Z" fill="#333" stroke="#2a2a2a" stroke-width="1.3"/>
<circle cx="0" cy="-49.8" r="15.3" fill="#fff" stroke="#2a2a2a" stroke-width="1.8"/>
<circle cx="0" cy="48.8" r="15.3" fill="#fff" stroke="#2a2a2a" stroke-width="1.8"/>
<circle cx="0.5" cy="0" r="15.2" fill="#fff" stroke="#2a2a2a" stroke-width="1.8"/>
</g>
<g transform="translate(1176.6,0) scale(-1,1)">
<path d="M516.90,493.50 C518.52,495.12 522.92,498.93 526.60,503.20 C530.28,507.47 535.75,512.80 539.00,519.10 C542.25,525.40 544.92,537.35 546.10,541.00" stroke="#2a2a2a" stroke-width="2.24" fill="none" />
<path d="M539.90,452.70 C541.52,452.57 546.20,452.78 549.60,451.90 C553.00,451.02 557.63,448.83 560.30,447.40 C562.97,445.97 564.72,443.98 565.60,443.30" stroke="#2a2a2a" stroke-width="2.128" fill="none" />
<path d="M538.10,461.60 C540.62,462.48 548.92,467.93 553.20,466.90 C557.48,465.87 561.58,459.23 563.80,455.40 C566.02,451.57 566.05,445.82 566.50,443.90" stroke="#2a2a2a" stroke-width="1.9040000000000001" fill="none" />
<path d="M532.80,469.60 C536.50,470.77 547.47,475.57 555.00,476.60 C562.53,477.63 574.17,475.93 578.00,475.80" stroke="#2a2a2a" stroke-width="1.9040000000000001" fill="none" />
<path d="M528.40,476.60 C532.83,477.78 546.65,482.37 555.00,483.70 C563.35,485.03 574.58,484.45 578.50,484.60" stroke="#2a2a2a" stroke-width="1.9040000000000001" fill="none" />
<path d="M516.90,493.50 L518.45,493.66 L520.04,493.85 L521.63,494.10 L523.23,494.40 L524.84,494.74 L526.45,495.14 L528.06,495.59 L529.66,496.09 L531.25,496.64 L532.83,497.24 L534.40,497.88 L535.94,498.57 L537.47,499.32 L538.97,500.10 L540.44,500.94 L541.88,501.82 L543.28,502.74 L544.64,503.71 L545.96,504.72 L547.24,505.78 L548.46,506.88 L549.64,508.03 L550.75,509.22 L551.81,510.44 L552.80,511.72 L553.73,513.03 L554.59,514.38 L555.38,515.77 L556.09,517.20 L556.72,518.67 L557.26,520.18 L557.72,521.73 L558.09,523.32 L558.37,524.94 L558.55,526.60 L558.63,528.29 L558.61,530.03 L558.48,531.79 L558.30,533.50" stroke="#2a2a2a" stroke-width="1.9040000000000001" fill="none" />
<path d="M565.60,443.90 L566.87,445.50 L567.92,447.12 L568.92,448.78 L569.89,450.47 L570.82,452.18 L571.70,453.93 L572.54,455.71 L573.34,457.51 L574.10,459.34 L574.81,461.20 L575.48,463.07 L576.11,464.97 L576.69,466.88 L577.22,468.81 L577.71,470.76 L578.16,472.72 L578.56,474.69 L578.91,476.67 L579.22,478.67 L579.48,480.67 L579.69,482.67 L579.85,484.68 L579.97,486.69 L580.04,488.71 L580.05,490.72 L580.02,492.73 L579.94,494.74 L579.81,496.74 L579.63,498.73 L579.39,500.72 L579.11,502.69 L578.77,504.66 L578.39,506.61 L577.95,508.54 L577.45,510.46 L576.90,512.36 L576.30,514.24 L575.65,516.10 L574.94,517.93 L574.18,519.74 L573.36,521.53 L572.48,523.28 L571.55,525.01 L570.57,526.70 L569.52,528.37 L568.42,529.99 L567.26,531.59 L566.05,533.14 L564.50,534.50" stroke="#2a2a2a" stroke-width="1.9040000000000001" fill="none" />
<path d="M558.3,533.5 L564.5,534.5 M558.3,533.5 L557.2,541.5 M564.5,534.5 L563.8,541.5" stroke="#2a2a2a" stroke-width="1.7920000000000003" fill="none" />
<g transform="translate(467.7,434.2) rotate(34.2)">
<path d="M23,-19 L63.5,-25.3 L63.5,25 L22.4,18 Z" stroke="#2a2a2a" stroke-width="2.24" fill="#fff" />
<line x1="37.60" y1="-21.00" x2="37.60" y2="20.00" stroke="#2a2a2a" stroke-width="1.9040000000000001" />
<line x1="65.60" y1="-25.00" x2="65.60" y2="24.00" stroke="#2a2a2a" stroke-width="1.4560000000000002" />
<path d="M65.6,-25 L70.5,-25.6 L74,21.5 L65.6,24" stroke="#2a2a2a" stroke-width="2.0160000000000005" fill="none" />
<line x1="66.00" y1="-3.00" x2="73.00" y2="-2.00" stroke="#2a2a2a" stroke-width="1.568" />
<rect x="14" y="-8" width="9" height="15" fill="#fff" stroke="#2a2a2a" stroke-width="1.7"/>
<path d="M-4.6,-18.5 L-4.6,-24 C-4.6,-28 -8.8,-30 -9.5,-38.5 L9.5,-38.5 C8.8,-30 4.6,-28 4.6,-24 L4.6,-18.5 Z" fill="#fff" stroke="#2a2a2a" stroke-width="1.7"/>
<line x1="-4.60" y1="-22.50" x2="4.60" y2="-22.50" stroke="#2a2a2a" stroke-width="1.4560000000000002" />
<line x1="-5.20" y1="-25.50" x2="5.20" y2="-25.50" stroke="#2a2a2a" stroke-width="1.4560000000000002" />
<line x1="-6.80" y1="-28.50" x2="6.80" y2="-28.50" stroke="#2a2a2a" stroke-width="1.4560000000000002" />
<path d="M-4.6,17.0 L-4.6,24 C-4.6,28 -8.8,30 -9.5,37.5 L9.5,37.5 C8.8,30 4.6,28 4.6,24 L4.6,17.0 Z" fill="#fff" stroke="#2a2a2a" stroke-width="1.7"/>
<line x1="-4.60" y1="22.50" x2="4.60" y2="22.50" stroke="#2a2a2a" stroke-width="1.4560000000000002" />
<line x1="-5.20" y1="25.50" x2="5.20" y2="25.50" stroke="#2a2a2a" stroke-width="1.4560000000000002" />
<line x1="-6.80" y1="28.50" x2="6.80" y2="28.50" stroke="#2a2a2a" stroke-width="1.4560000000000002" />
<rect x="-17" y="-19" width="32" height="36.5" rx="3" fill="#fff" stroke="#2a2a2a" stroke-width="1.8"/>
<path d="M-17.3,-19.4 Q-24.55,-0.6 -16.8,18.2 L-12.9,16.7 Q-21.35,-1 -14,-18.3 Z" fill="#333" stroke="#2a2a2a" stroke-width="1.3"/>
<circle cx="0" cy="-49.8" r="15.3" fill="#fff" stroke="#2a2a2a" stroke-width="1.8"/>
<circle cx="0" cy="48.8" r="15.3" fill="#fff" stroke="#2a2a2a" stroke-width="1.8"/>
<circle cx="0.5" cy="0" r="15.2" fill="#fff" stroke="#2a2a2a" stroke-width="1.8"/>
</g>
</g>
</svg></body></html>
